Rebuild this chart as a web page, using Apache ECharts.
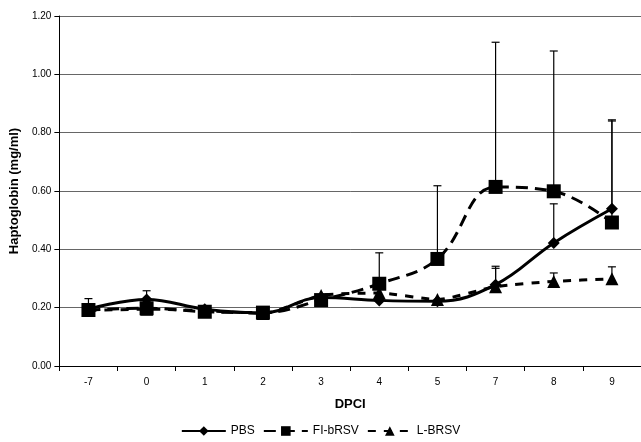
<!DOCTYPE html>
<html lang="en" style="height: 100%">
<head>
    <meta charset="utf-8">
    <title>Haptoglobin</title>
    <script type="text/javascript" src="https://cdn.jsdelivr.net/npm/echarts@6/dist/echarts.min.js"></script>
</head>
<body style="height: 100%; margin: 0; background: #fff;">
<div id="container" style="width: 641px; height: 442px"></div>
<script type="text/javascript">
    // days post challenge infection
    var dpci = ['-7', '0', '1', '2', '3', '4', '5', '7', '8', '9'];

    var pbs = [0.195, 0.228, 0.195, 0.182, 0.235, 0.225, 0.222, 0.279, 0.422, 0.539];
    var fiBrsv = [0.192, 0.198, 0.186, 0.183, 0.226, 0.282, 0.367, 0.614, 0.599, 0.492];
    var lBrsv = [0.19, 0.195, 0.19, 0.18, 0.242, 0.25, 0.228, 0.272, 0.29, 0.299];

    // upper ends of the error bars (null = none drawn)
    var pbsErr = [0.231, 0.258, null, null, null, null, null, 0.335, 0.556, 0.844];
    var fiErr = [null, null, null, null, null, 0.388, 0.618, 1.11, 1.08, 0.84];
    var lErr = [null, null, null, null, null, null, null, 0.342, 0.319, 0.34];

    var dom = document.getElementById('container');
    var myChart = echarts.init(dom, null, {renderer: 'canvas'});

    function errData(vals, errs) {
        var out = [];
        errs.forEach(function (e, i) {
            if (e != null) out.push([i, vals[i], e]);
        });
        return out;
    }

    function errSeries(vals, errs) {
        return {
            type: 'custom',
            silent: true,
            z: 1,
            data: errData(vals, errs),
            renderItem: function (params, api) {
                var lo = api.coord([api.value(0), api.value(1)]);
                var hi = api.coord([api.value(0), api.value(2)]);
                var st = {stroke: '#000', lineWidth: 1.2};
                return {
                    type: 'group',
                    children: [
                        {type: 'line', shape: {x1: lo[0], y1: lo[1], x2: hi[0], y2: hi[1]}, style: st},
                        {type: 'line', shape: {x1: hi[0] - 4, y1: hi[1], x2: hi[0] + 4, y2: hi[1]}, style: st}
                    ]
                };
            }
        };
    }

    var option = {
        animation: false,
        grid: {left: 58, right: -2, top: 16, bottom: 76},
        legend: {
            bottom: 0,
            left: 'center',
            itemWidth: 44,
            itemHeight: 12,
            itemGap: 8,
            textStyle: {fontFamily: 'Liberation Sans, Arial', fontSize: 12, color: '#000'},
            data: ['PBS', 'FI-bRSV', 'L-BRSV']
        },
        xAxis: {
            type: 'category',
            data: dpci,
            name: 'DPCI',
            nameLocation: 'middle',
            nameGap: 32,
            nameTextStyle: {fontFamily: 'Liberation Sans, Arial', fontWeight: 'bold', fontSize: 13, color: '#000'},
            axisLine: {lineStyle: {color: '#000', width: 1}},
            axisTick: {show: true, alignWithLabel: false, lineStyle: {color: '#000'}},
            axisLabel: {fontFamily: 'Liberation Sans, Arial', fontSize: 10, color: '#000', margin: 11}
        },
        yAxis: {
            type: 'value',
            min: 0,
            max: 1.2,
            interval: 0.2,
            name: 'Haptoglobin (mg/ml)',
            nameLocation: 'middle',
            nameGap: 37,
            nameTextStyle: {fontFamily: 'Liberation Sans, Arial', fontWeight: 'bold', fontSize: 13, color: '#000'},
            axisLine: {show: true, lineStyle: {color: '#000'}},
            axisTick: {show: true, lineStyle: {color: '#000'}},
            axisLabel: {
                fontFamily: 'Liberation Sans, Arial', fontSize: 10, color: '#000',
                formatter: function (v) { return v.toFixed(2); }
            },
            splitLine: {lineStyle: {color: '#666', width: 1}}
        },
        series: [
            errSeries(pbs, pbsErr),
            errSeries(fiBrsv, fiErr),
            errSeries(lBrsv, lErr),
            {
                name: 'PBS',
                type: 'line',
                data: pbs,
                smooth: 0.4,
                symbol: 'diamond',
                symbolSize: 12,
                itemStyle: {color: '#000'},
                lineStyle: {color: '#000', width: 3}
            },
            {
                name: 'FI-bRSV',
                type: 'line',
                data: fiBrsv,
                smooth: 0.4,
                symbol: 'rect',
                symbolSize: 14,
                itemStyle: {color: '#000'},
                lineStyle: {color: '#000', width: 3, type: [12, 7]}
            },
            {
                name: 'L-BRSV',
                type: 'line',
                data: lBrsv,
                smooth: 0.2,
                symbol: 'triangle',
                symbolSize: 13,
                itemStyle: {color: '#000'},
                lineStyle: {color: '#000', width: 3, type: [8, 8]}
            }
        ]
    };
    myChart.setOption(option);
</script>
</body>
</html>
